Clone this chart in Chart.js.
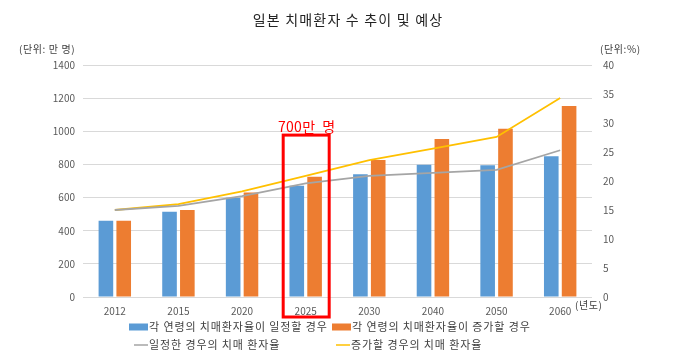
<!DOCTYPE html>
<html><head><meta charset="utf-8">
<script src="https://cdn.jsdelivr.net/npm/chart.js@4"></script>
<style>html,body{margin:0;padding:0;background:#fff}#wrap{width:695px;height:357px;position:relative}</style>
</head><body><div id="wrap"><canvas id="c" width="695" height="357"></canvas></div>
<script>
const chartTitle = '일본 치매환자 수 추이 및 예상';
const years = ['2012','2015','2020','2025','2030','2040','2050','2060'];
const constantPatients = [460, 515, 599, 672, 740, 798, 795, 849];
const increasingPatients = [460, 525, 630, 726, 827, 953, 1016, 1153];
const constantRate = [15.0, 15.7, 17.4, 19.6, 20.9, 21.4, 21.9, 25.3];
const increasingRate = [15.0, 16.0, 18.2, 20.9, 23.6, 25.6, 27.6, 34.3];
const seriesNames = ['각 연령의 치매환자율이 일정할 경우','각 연령의 치매환자율이 증가할 경우','일정한 경우의 치매 환자율','증가할 경우의 치매 환자율'];
const leftUnit = '(단위: 만 명)';
const rightUnit = '(단위:%)';
const xUnit = '(년도)';
const highlightYear = '2025';
const highlightText = '700만  명';

const FONT = '"Noto Sans CJK KR", "Noto Sans", sans-serif';
const colors = {blue:'#5b9bd5', orange:'#ed7d31', gray:'#a5a5a5', yellow:'#ffc000'};

const overlay = {
  id:'overlay',
  afterDraw(chart){
    const ctx = chart.ctx, x = chart.scales.x, y = chart.scales.y;
    ctx.save();
    // title
    ctx.fillStyle = '#222';
    ctx.font = '14px ' + FONT;
    ctx.letterSpacing = '1.2px';
    ctx.textAlign = 'center'; ctx.textBaseline = 'middle';
    ctx.fillText(chartTitle, 348, 20);
    // units
    ctx.font = '10px ' + FONT;
    ctx.letterSpacing = '0.6px';
    ctx.fillStyle = '#404040';
    ctx.textAlign = 'left';
    ctx.fillText(leftUnit, 19, 49);
    ctx.fillText(rightUnit, 600, 49);
    ctx.fillText(xUnit, 575, 305);
    // highlight box
    const i = years.indexOf(highlightYear);
    const cx = x.getPixelForValue(i);
    const top = y.getPixelForValue(977);
    ctx.strokeStyle = '#ff0000'; ctx.lineWidth = 3;
    ctx.strokeRect(cx - 22.5, top, 46, chart.chartArea.bottom + 20 - top);
    ctx.fillStyle = '#ff0000';
    ctx.font = '14px ' + FONT;
    ctx.letterSpacing = '0.3px';
    ctx.textAlign = 'center';
    ctx.fillText(highlightText, cx + 1, top - 8);
    // legend
    ctx.font = '11px ' + FONT;
    ctx.letterSpacing = '0.9px';
    ctx.textAlign = 'left'; ctx.fillStyle = '#404040';
    const items = [
      {t:'box', c:colors.blue, x:129, y:327},
      {t:'box', c:colors.orange, x:332, y:327},
      {t:'line', c:colors.gray, x:134, y:345},
      {t:'line', c:colors.yellow, x:336, y:345}
    ];
    items.forEach((it, k) => {
      if (it.t === 'box') {
        ctx.fillStyle = it.c; ctx.fillRect(it.x, it.y - 3.5, 19, 7);
      } else {
        ctx.strokeStyle = it.c; ctx.lineWidth = 1.5;
        ctx.beginPath(); ctx.moveTo(it.x, it.y); ctx.lineTo(it.x + 14, it.y); ctx.stroke();
      }
      ctx.fillStyle = '#404040';
      ctx.fillText(seriesNames[k], it.x + (it.t === 'box' ? 20 : 15), it.y);
    });
    ctx.restore();
  }
};

new Chart(document.getElementById('c'), {
  data: {
    labels: years,
    datasets: [
      {type:'line', label:seriesNames[2], data:constantRate, yAxisID:'y1', borderColor:colors.gray, borderWidth:1.8, pointRadius:0, tension:0, order:0},
      {type:'line', label:seriesNames[3], data:increasingRate, yAxisID:'y1', borderColor:colors.yellow, borderWidth:1.8, pointRadius:0, tension:0, order:0},
      {type:'bar', label:seriesNames[0], data:constantPatients, yAxisID:'y', backgroundColor:colors.blue, barPercentage:0.82, categoryPercentage:0.56, order:1},
      {type:'bar', label:seriesNames[1], data:increasingPatients, yAxisID:'y', backgroundColor:colors.orange, barPercentage:0.82, categoryPercentage:0.56, order:1}
    ]
  },
  options: {
    responsive:false, animation:false, devicePixelRatio:1,
    layout:{padding:{top:65, left:0, right:0, bottom:0}},
    plugins:{legend:{display:false}, title:{display:false}, tooltip:{enabled:false}},
    scales:{
      x:{
        grid:{display:false, drawTicks:false}, border:{display:false},
        ticks:{color:'#595959', font:{family:FONT, size:10}, padding:8, maxRotation:0},
        afterFit(s){ s.height = 60; }
      },
      y:{
        position:'left', min:0, max:1400,
        ticks:{stepSize:200, color:'#595959', font:{family:FONT, size:10}, padding:8, callback:v => String(v)},
        grid:{color:'#d9d9d9', lineWidth:1, drawTicks:false}, border:{display:false},
        afterFit(s){ s.width = 83; }
      },
      y1:{
        position:'right', min:0, max:40,
        ticks:{stepSize:5, color:'#595959', font:{family:FONT, size:10}, padding:11, callback:v => String(v)},
        grid:{display:false, drawTicks:false}, border:{display:false},
        afterFit(s){ s.width = 103; }
      }
    }
  },
  plugins:[overlay]
});
</script></body></html>
